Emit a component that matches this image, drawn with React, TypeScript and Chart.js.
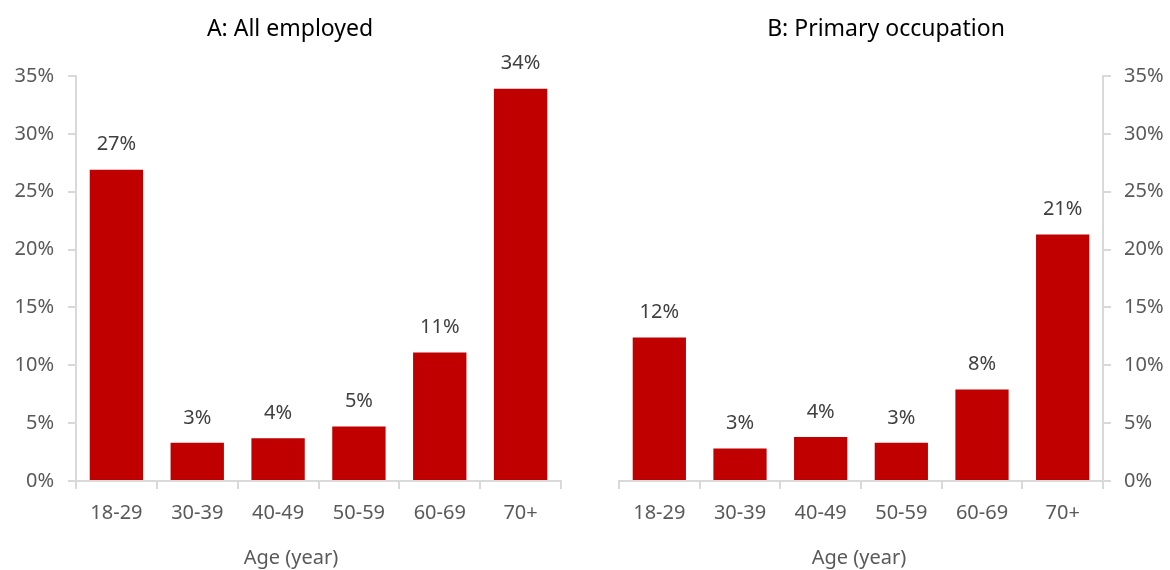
import { useEffect, useRef } from "react";
import { Chart, registerables } from "chart.js";

Chart.register(...registerables);

// Share of each age group, in percent
const ageGroups = ["18-29", "30-39", "40-49", "50-59", "60-69", "70+"];
const allEmployed = [26.9, 3.3, 3.7, 4.7, 11.1, 33.9];
const primaryOccupation = [12.4, 2.8, 3.8, 3.3, 7.9, 21.3];

const yMin = 0;
const yMax = 35;
const yStep = 5;

const FONT = '"Noto Sans", "Open Sans", sans-serif';
const BAR_RED = "#C00000";
const AXIS_GRAY = "#D9D9D9";
const TICK_GRAY = "#595959";

// Writes each bar's rounded value above it
const valueLabels = {
  id: "valueLabels",
  afterDatasetsDraw(chart: any) {
    const { ctx } = chart;
    const meta = chart.getDatasetMeta(0);
    const values = chart.data.datasets[0].data as number[];
    ctx.save();
    ctx.font = `20px ${FONT}`;
    ctx.fillStyle = "#404040";
    ctx.textAlign = "center";
    ctx.textBaseline = "middle";
    meta.data.forEach((bar: any, i: number) => {
      ctx.fillText(`${Math.round(values[i])}%`, bar.x, bar.y - 25);
    });
    ctx.restore();
  },
};

// Panel heading at the top and axis caption at the bottom of the canvas
const panelText = {
  id: "panelText",
  afterDraw(chart: any, _args: any, opts: any) {
    const { ctx } = chart;
    ctx.save();
    ctx.textAlign = "center";
    ctx.textBaseline = "middle";
    ctx.font = `23px ${FONT}`;
    ctx.fillStyle = "#000000";
    ctx.fillText(opts.title, opts.titleX, 29);
    ctx.font = `20px ${FONT}`;
    ctx.fillStyle = TICK_GRAY;
    ctx.fillText(opts.caption, opts.captionX, chart.height - 12);
    ctx.restore();
  },
};

type PanelProps = {
  title: string;
  values: number[];
  side: "left" | "right";
};

function BarPanel({ title, values, side }: PanelProps) {
  const canvasRef = useRef<HTMLCanvasElement | null>(null);

  useEffect(() => {
    if (!canvasRef.current) return;
    const isLeft = side === "left";
    const chart = new Chart(canvasRef.current, {
      type: "bar",
      data: {
        labels: ageGroups,
        datasets: [
          {
            data: values,
            backgroundColor: BAR_RED,
            borderWidth: 0,
            categoryPercentage: 1,
            barPercentage: 0.66,
          },
        ],
      },
      options: {
        animation: false,
        responsive: true,
        maintainAspectRatio: false,
        layout: {
          padding: isLeft
            ? { left: 0, right: 24, top: 76, bottom: 0 }
            : { left: 34, right: 0, top: 76, bottom: 0 },
        },
        plugins: {
          legend: { display: false },
          tooltip: { enabled: false },
          title: { display: false },
          panelText: {
            title,
            caption: "Age (year)",
            titleX: isLeft ? 290 : 301,
            captionX: isLeft ? 291 : 274,
          },
        } as any,
        scales: {
          x: {
            grid: {
              offset: true,
              drawOnChartArea: false,
              drawTicks: true,
              tickLength: 8,
              color: AXIS_GRAY,
              lineWidth: 2,
            },
            border: { color: AXIS_GRAY, width: 2 },
            ticks: {
              color: TICK_GRAY,
              font: { family: FONT, size: 20 },
              padding: 12,
            },
            afterFit: (scale: any) => {
              scale.height = 89;
            },
          },
          y: {
            position: side,
            min: yMin,
            max: yMax,
            grid: {
              drawOnChartArea: false,
              drawTicks: true,
              tickLength: 8,
              color: AXIS_GRAY,
              lineWidth: 2,
            },
            border: { color: AXIS_GRAY, width: 2 },
            ticks: {
              stepSize: yStep,
              color: TICK_GRAY,
              font: { family: FONT, size: 20 },
              padding: isLeft ? 14 : 13,
              callback: (v: any) => `${v}%`,
            },
            afterFit: (scale: any) => {
              scale.width = isLeft ? 76 : 67;
            },
          },
        },
      },
      plugins: [valueLabels, panelText],
    });
    return () => chart.destroy();
  }, [title, values, side]);

  return (
    <div style={{ position: "relative", width: 585, height: 570 }}>
      <canvas ref={canvasRef} />
    </div>
  );
}

export default function App() {
  return (
    <div
      style={{
        position: "fixed",
        top: 0,
        left: 0,
        width: 1170,
        height: 570,
        display: "flex",
        background: "#ffffff",
      }}
    >
      <BarPanel title="A: All employed" values={allEmployed} side="left" />
      <BarPanel title="B: Primary occupation" values={primaryOccupation} side="right" />
    </div>
  );
}
